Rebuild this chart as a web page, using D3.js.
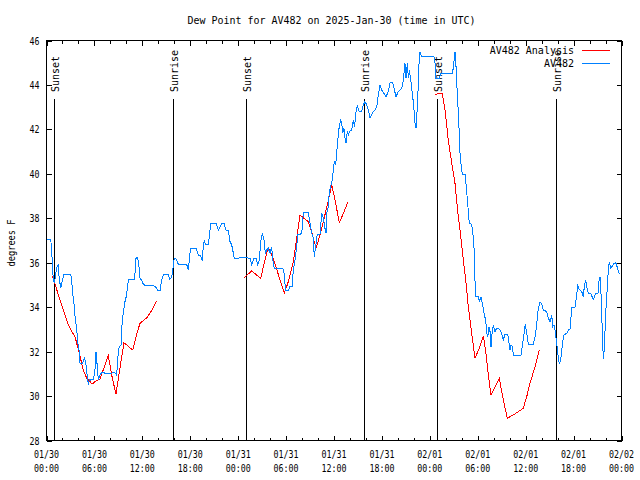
<!DOCTYPE html>
<html><head><meta charset="utf-8">
<script src="https://cdn.jsdelivr.net/npm/d3@7"></script>
<style>
body{margin:0;background:#fff}
text{font-family:"DejaVu Sans Mono",monospace;font-size:10px;fill:#000}
</style>
</head><body>
<svg id="chart" width="640" height="480"></svg>
<script>
// ---- data (hours since 2025-01-30 00:00 UTC, dew point in °F) ----
const obsHours = [0.00,0.56,0.57,0.69,0.77,0.85,0.98,1.27,1.48,1.57,1.78,1.90,2.19,2.86,3.03,3.15,3.28,3.44,3.61,3.78,3.90,4.07,4.20,4.49,4.74,4.90,5.03,5.24,5.36,5.53,5.87,6.07,6.20,6.36,6.49,6.70,6.91,7.74,8.58,8.79,8.99,9.12,9.33,9.41,9.54,9.70,9.83,10.04,10.16,10.29,10.96,11.08,11.21,11.42,11.58,11.71,11.92,12.12,12.33,13.59,13.80,14.00,14.21,14.42,14.63,15.25,15.46,15.68,15.80,16.00,16.22,16.50,17.55,17.76,17.97,18.10,18.72,19.01,19.31,19.51,19.64,19.76,19.93,20.26,20.47,20.56,21.22,21.51,21.73,21.94,22.23,22.48,22.77,22.98,23.19,23.32,23.52,24.86,25.48,25.70,25.98,26.23,26.45,26.65,26.82,27.02,27.24,27.40,27.57,27.77,27.99,28.20,28.33,28.53,29.58,29.74,29.90,29.99,30.28,30.49,30.78,30.90,31.12,31.33,31.46,31.74,31.96,32.16,32.78,33.00,33.21,33.41,33.53,33.75,33.91,34.25,34.46,34.66,34.87,35.00,35.09,35.29,35.41,35.63,35.79,35.91,36.04,36.21,36.34,36.47,36.54,36.66,36.84,36.97,37.09,37.25,37.38,37.50,37.67,37.79,37.92,38.22,38.42,38.57,38.76,38.92,39.17,39.47,39.67,39.88,40.10,40.30,40.51,40.72,40.92,41.13,41.35,41.55,41.76,41.97,42.26,42.51,42.80,43.01,43.35,43.51,43.77,44.05,44.27,44.48,44.68,44.89,45.02,45.18,45.31,45.43,45.61,45.86,46.02,46.15,46.27,46.36,46.48,46.65,46.77,46.98,48.52,48.65,48.77,49.19,49.40,50.84,51.00,51.15,51.28,51.40,51.57,51.69,51.80,51.99,52.09,52.41,52.49,52.74,52.94,53.24,53.37,53.57,53.66,53.74,54.07,54.19,54.41,54.53,54.70,54.82,55.00,55.12,55.25,55.41,55.54,55.66,55.83,55.95,56.16,56.37,56.58,56.79,57.00,57.20,57.41,57.75,57.92,58.04,58.17,58.33,58.46,58.67,59.42,59.63,59.83,59.96,60.13,60.33,60.96,61.17,61.38,61.58,61.80,62.01,62.21,62.64,62.84,63.05,63.26,63.39,63.55,63.68,63.89,64.01,64.21,64.39,64.64,64.80,65.14,65.34,65.55,65.68,65.76,66.18,66.39,66.52,66.72,67.02,67.22,67.34,67.52,67.64,67.84,68.18,68.47,68.77,69.06,69.18,69.31,69.43,69.52,69.65,69.72,69.85,70.02,70.15,70.35,70.48,70.65,70.85,71.06,71.28,71.47,71.72];
const obsDew = [37.05,37.05,36.80,36.27,35.75,35.22,35.07,35.75,35.94,35.37,34.85,35.07,35.48,35.45,35.49,35.22,34.62,34.17,33.42,33.05,32.45,32.07,31.47,31.47,31.70,31.55,31.10,30.50,30.75,30.72,30.75,31.17,32.00,31.32,30.72,30.95,31.05,31.02,31.05,30.95,32.00,32.22,32.30,32.97,33.57,33.95,34.25,34.55,35.00,35.25,35.25,35.52,36.20,36.24,35.82,35.30,35.22,35.03,34.98,34.95,34.85,34.73,34.73,35.22,35.46,35.46,35.25,35.37,35.64,36.20,36.17,35.94,35.93,35.67,36.42,36.65,36.65,36.35,36.30,36.08,36.80,37.02,36.80,36.80,37.47,37.77,37.77,37.47,37.62,37.77,37.77,37.47,37.44,36.95,36.80,36.57,36.20,36.23,36.20,35.90,36.20,36.20,35.90,36.12,36.95,37.32,37.02,36.42,36.57,36.65,36.42,36.72,36.12,35.75,35.75,35.52,34.92,34.73,34.73,34.95,34.95,35.67,36.12,36.72,37.25,37.28,37.32,38.25,38.25,37.77,37.32,37.10,36.27,36.87,37.28,37.28,38.22,38.04,37.55,37.32,38.22,38.52,39.20,39.50,39.72,40.17,40.55,40.40,41.00,41.45,41.82,42.12,42.42,42.27,41.82,42.05,41.60,41.37,41.90,41.75,41.90,41.97,42.42,42.12,42.80,43.05,42.80,42.80,43.10,43.25,43.10,42.87,42.50,42.65,42.80,42.87,43.02,43.55,44.00,43.77,43.62,43.47,43.70,44.10,44.10,43.85,43.47,43.70,43.77,43.85,44.22,44.97,44.30,44.97,44.30,44.67,44.22,43.47,42.87,42.27,42.05,42.57,43.32,44.97,45.50,45.27,45.27,44.97,44.31,44.31,44.52,44.52,44.97,45.50,44.82,43.86,42.72,41.75,40.77,40.17,39.99,39.99,39.72,38.67,37.77,37.73,37.40,36.50,35.15,34.47,34.47,34.25,34.47,34.25,33.95,33.65,33.42,32.82,32.67,33.12,32.90,32.22,32.97,33.20,32.90,33.05,33.06,32.97,32.82,32.52,32.79,32.79,32.37,32.07,32.30,32.22,31.85,31.80,31.85,32.37,32.90,33.24,32.82,32.34,32.34,32.67,33.20,33.95,34.22,34.17,33.87,33.80,33.50,33.35,33.65,33.12,33.20,32.97,32.37,31.92,31.47,31.62,32.45,32.75,32.82,32.97,33.00,33.57,33.99,33.99,34.55,34.95,34.80,34.70,34.47,34.92,35.22,34.92,34.62,34.59,34.35,34.62,34.62,35.15,35.37,34.62,33.72,32.37,31.65,32.15,33.72,34.47,35.67,36.05,35.75,35.85,35.97,36.00,35.80,35.49];

// analysis series: three separate runs
const anaHours1 = [0.73,0.85,1.90,2.73,3.16,3.57,4.10,4.60,5.03,5.73,6.07,6.70,7.74,8.16,8.70,8.99,9.42,9.70,10.80,11.30,11.70,12.10,12.60,13.20,13.80];
const anaDew1   = [35.42,35.27,34.10,33.20,32.90,32.67,31.94,31.17,30.81,30.54,30.65,30.77,31.82,30.95,30.08,30.77,31.77,32.40,32.07,32.79,33.27,33.39,33.54,33.87,34.28];
const anaHours2 = [24.77,25.70,26.82,27.36,27.77,28.20,28.60,29.24,29.78,30.28,30.90,31.33,31.74,32.24,32.78,33.20,33.75,34.25,34.66,35.16,35.71,36.13,36.25,36.66,37.17,37.72];
const anaDew2   = [35.34,35.63,35.30,36.12,36.68,36.35,35.97,35.22,34.62,35.15,36.05,37.10,38.15,38.00,37.85,37.40,36.65,37.25,37.85,38.60,39.50,38.82,38.60,37.80,38.22,38.72];
const anaHours3 = [48.74,49.06,49.56,49.90,50.31,50.74,51.15,51.56,51.78,52.19,52.49,52.82,53.24,53.66,54.19,54.70,55.03,55.32,55.66,56.16,56.70,57.12,57.70,58.45,59.70,60.13,60.54,61.17,61.70];
const anaDew3   = [43.55,43.63,43.63,42.87,41.52,40.48,39.57,38.07,37.47,36.12,35.22,34.02,32.82,31.70,32.15,32.72,31.92,30.95,30.05,30.42,30.80,29.97,29.00,29.15,29.45,29.97,30.57,31.32,32.07];

const sunHours  = [0.97, 15.80, 24.97, 39.78, 48.95, 63.76];
const sunLabels = ["Sunset","Sunrise","Sunset","Sunrise","Sunset","Sunrise"];

const yTicks = [28,30,32,34,36,38,40,42,44,46];
const titleText = "Dew Point for AV482 on 2025-Jan-30 (time in UTC)";
const yLabel = "degrees F";
const seriesNames = ["AV482 Analysis","AV482"];
const seriesColors = ["#ff0000","#0080ff"];

// ---- chart ----
const T0 = Date.UTC(2025,0,30);
const toDate = h => new Date(T0 + h*3600000);
const svg = d3.select("#chart");
const L=46.5, R=621.5, TOP=40.5, BOT=440.5;

const x = d3.scaleUtc().domain([toDate(0), toDate(72)]).range([L,R]);
const y = d3.scaleLinear().domain([28,46]).range([BOT,TOP]);

const majorTicks = d3.utcHour.every(6).range(toDate(0), toDate(72.01));
const minorTicks = d3.utcHour.every(2).range(toDate(0), toDate(72.01));

function clean(g){ g.select(".domain").remove(); g.selectAll("line").attr("stroke","#000").attr("shape-rendering","crispEdges"); }

svg.append("g").attr("transform",`translate(0,${BOT})`)
  .call(d3.axisBottom(x).tickValues(minorTicks).tickSize(-3).tickFormat("")).call(clean);
svg.append("g").attr("transform",`translate(0,${BOT})`)
  .call(d3.axisBottom(x).tickValues(majorTicks).tickSize(-5).tickFormat("")).call(clean);
svg.append("g").attr("transform",`translate(0,${TOP})`)
  .call(d3.axisTop(x).tickValues(minorTicks).tickSize(-3).tickFormat("")).call(clean);
svg.append("g").attr("transform",`translate(0,${TOP})`)
  .call(d3.axisTop(x).tickValues(majorTicks).tickSize(-5).tickFormat("")).call(clean);

svg.append("g").attr("transform",`translate(${L},0)`)
  .call(d3.axisLeft(y).tickValues(yTicks).tickSize(-5).tickPadding(7).tickFormat(d3.format("d")))
  .call(clean)
  .call(g=>g.selectAll("text").attr("font-family",null).attr("font-size",null)
    .attr("textLength",10).attr("lengthAdjust","spacingAndGlyphs").attr("dy","0.35em"));
svg.append("g").attr("transform",`translate(${R},0)`)
  .call(d3.axisRight(y).tickValues(yTicks).tickSize(-5).tickFormat("")).call(clean);

// x tick labels (two lines)
const fmtDay = d3.utcFormat("%m/%d"), fmtTime = d3.utcFormat("%H:%M");
const xl = svg.append("g");
majorTicks.forEach(d=>{
  xl.append("text").attr("x",x(d)).attr("y",457.5).attr("text-anchor","middle")
    .attr("textLength",25).attr("lengthAdjust","spacingAndGlyphs").text(fmtDay(d));
  xl.append("text").attr("x",x(d)).attr("y",471.5).attr("text-anchor","middle")
    .attr("textLength",25).attr("lengthAdjust","spacingAndGlyphs").text(fmtTime(d));
});

// border
svg.append("rect").attr("x",L).attr("y",TOP).attr("width",R-L).attr("height",BOT-TOP)
  .attr("fill","none").attr("stroke","#000").attr("shape-rendering","crispEdges");

// sun lines
const sun = svg.append("g");
sunHours.forEach((h,i)=>{
  const sx = Math.round(x(toDate(h)))+0.5;
  sun.append("line").attr("x1",sx).attr("x2",sx).attr("y1",99).attr("y2",BOT)
    .attr("stroke","#000").attr("shape-rendering","crispEdges");
  sun.append("text").attr("transform",`translate(${sx+4},92) rotate(-90)`).text(sunLabels[i]);
});

// series
const line = d3.line().x(d=>x(d.t)).y(d=>y(d.v));
const mk = (hs,vs)=>hs.map((h,i)=>({t:toDate(h),v:vs[i]}));
[[anaHours1,anaDew1],[anaHours2,anaDew2],[anaHours3,anaDew3]].forEach(([hs,vs])=>{
  svg.append("path").datum(mk(hs,vs)).attr("d",line).attr("fill","none")
    .attr("stroke",seriesColors[0]).attr("stroke-width",1).attr("shape-rendering","crispEdges");
});
svg.append("path").datum(mk(obsHours,obsDew)).attr("d",line).attr("fill","none")
  .attr("stroke",seriesColors[1]).attr("stroke-width",1).attr("shape-rendering","crispEdges");

// legend
seriesNames.forEach((n,i)=>{
  const ly = 50.5 + i*13;
  svg.append("text").attr("x",574).attr("y",ly+3.5).attr("text-anchor","end").text(n);
  svg.append("line").attr("x1",582).attr("x2",610).attr("y1",ly).attr("y2",ly)
    .attr("stroke",seriesColors[i]).attr("shape-rendering","crispEdges");
});

// title & y label
svg.append("text").attr("x",331.5).attr("y",23.5).attr("text-anchor","middle")
  .attr("textLength",288).attr("lengthAdjust","spacingAndGlyphs").text(titleText);
svg.append("text").attr("transform","translate(14.5,243) rotate(-90)").attr("text-anchor","middle")
  .attr("textLength",47).attr("lengthAdjust","spacingAndGlyphs").text(yLabel);
</script>
</body></html>
